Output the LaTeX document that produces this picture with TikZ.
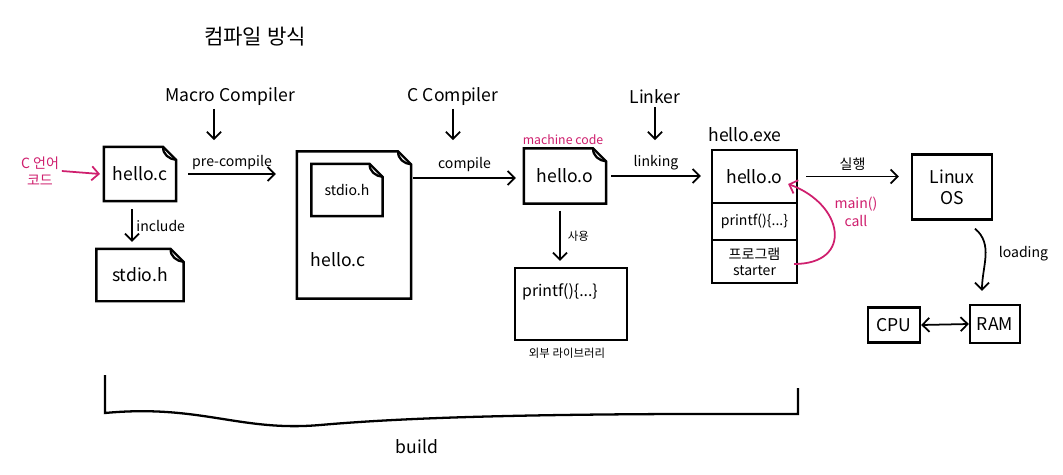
\documentclass[tikz,border=0pt]{standalone}
\usepackage{fontspec}
\setmainfont{Noto Sans CJK KR}
\usetikzlibrary{arrows.meta}
\definecolor{hlpink}{HTML}{CF1F6E}
\newcommand\docshape[1]{%
  \draw (#1.south west) -- (#1.north west) -- ([xshift=-0.26cm]#1.north east)
        -- ([yshift=-0.26cm]#1.north east) -- (#1.south east) -- cycle;
  \draw ([xshift=-0.26cm]#1.north east) to[out=-95,in=175] ([yshift=-0.26cm]#1.north east);}
\begin{document}
\begin{tikzpicture}[x=0.02cm,y=-0.02cm,line width=1.3pt,
  txt/.style={inner sep=1pt,font=\fontsize{10}{12}\selectfont},
  small/.style={inner sep=1pt,font=\fontsize{8}{10}\selectfont},
  tiny/.style={inner sep=1pt,font=\fontsize{6.5}{8}\selectfont},
  doc/.style={draw=none,inner sep=0pt,font=\fontsize{10}{12}\selectfont},
  box/.style={draw,inner sep=0pt,font=\fontsize{10}{12}\selectfont},
  arr/.style={-{Straight Barb[length=4pt,width=8pt]},line width=1pt},
  darr/.style={{Straight Barb[length=4pt,width=8pt]}-{Straight Barb[length=4pt,width=8pt]},line width=1pt},
  pk/.style={hlpink}]
\fill[white] (0,0) rectangle (1063,474);
\useasboundingbox (0,0) rectangle (1063,474);

% title
\node[txt,font=\fontsize{12}{14}\selectfont] (title) at (255,37) {컴파일 방식};

% C code label
\node[small,pk,align=center] (ccode) at (40,171) {C 언어\\코드};

% hello.c
\node[doc,minimum width=1.4cm,minimum height=1.04cm] (helloc) at (140,174) {hello.c};
\docshape{helloc}
\coordinate (cin) at (100,0);
\draw[arr,pk] (ccode.east) -- (helloc.west -| cin);

% stdio.h
\node[doc,minimum width=1.7cm,minimum height=1.0cm] (stdio) at (140,275) {stdio.h};
\docshape{stdio}
\draw[arr] ([xshift=-0.16cm,yshift=-0.16cm]helloc.south) -- ([xshift=-0.16cm,yshift=0.14cm]helloc.south |- stdio.north)
  node[small,midway,right=1pt] (incl) {include};

% Macro compiler
\node[txt] (mc) at (230,97) {Macro Compiler};
\coordinate (mce) at (214,140);
\draw[arr] (mc.south -| mce) -- (mce);

% big doc
\node[doc,minimum width=2.24cm,minimum height=2.9cm] (big) at (354,225) {};
\docshape{big}
\node[doc,minimum width=1.38cm,minimum height=1.0cm,font=\fontsize{8}{10}\selectfont] (istdio) at (347,190) {stdio.h};
\docshape{istdio}
\node[txt] (bighc) at (338,260) {hello.c};

\draw[arr] ([xshift=0.24cm]helloc.east) -- ([xshift=-0.42cm]helloc.east -| big.west)
  node[small,midway,above=1pt] (prec) {pre-compile};

% C compiler
\node[txt] (cc) at (453,97) {C Compiler};
\coordinate (cce) at (453,140);
\draw[arr] (cc.south -| cce) -- (cce);

% hello.o
\node[doc,minimum width=1.6cm,minimum height=1.06cm] (ho) at (565,176) {hello.o};
\docshape{ho}
\node[tiny,pk,font=\fontsize{7}{8}\selectfont] (mcode) at (563,140) {machine code};

\draw[arr] ([xshift=0.04cm,yshift=-0.04cm]ho.west -| big.east) -- ([xshift=-0.16cm,yshift=-0.04cm]ho.west)
  node[small,midway,above=2pt] (compl) {compile};

% printf library
\node[box,minimum width=2.24cm,minimum height=1.44cm] (lib) at (571,304) {};
\node[txt,font=\fontsize{9}{11}\selectfont] (libt) at (560,292) {printf()\{...\}};
\node[tiny] (libl) at (567,353) {외부 라이브러리};
\coordinate (usex) at (560,0);
\draw[arr] ([yshift=-0.14cm]ho.south -| usex) -- ([yshift=0.12cm]lib.north -| usex)
  node[tiny,midway,right=3pt] (use) {사용};

% Linker
\node[txt] (lk) at (655,97) {Linker};
\coordinate (lke) at (655,140);
\draw[arr] (lk.south -| lke) -- (lke);

% hello.exe
\node[box,minimum width=1.7cm,minimum height=1.06cm] (exe1) at (754.5,176.5) {hello.o};
\node[box,minimum width=1.7cm,minimum height=0.74cm,font=\fontsize{8}{10}\selectfont] (exe2) at (754.5,221.5) {printf()\{...\}};
\node[box,minimum width=1.7cm,minimum height=0.86cm,align=center,font=\fontsize{8}{9}\selectfont] (exe3) at (754.5,261.5) {프로그램\\starter};
\node[txt] (exel) at (745,135) {hello.exe};

\draw[arr] ([xshift=0.1cm]ho.east) -- ([xshift=-0.2cm]ho.east -| exe1.west)
  node[small,midway,above=2pt] (lnk) {linking};

% main() call
\draw[arr,pk] ([xshift=-0.08cm,yshift=-0.05cm]exe3.east) to[out=0,in=-20,looseness=1.9] ([xshift=-0.2cm,yshift=-0.15cm]exe1.east);
\node[small,pk,align=center] (mainc) at (856,212) {main()\\call};

% Linux OS
\node[box,minimum width=1.6cm,minimum height=1.3cm,align=center] (os) at (952,187) {Linux\\OS};
\draw[arr] ([xshift=0.16cm]exe1.east) -- ([xshift=-0.24cm]exe1.east -| os.west)
  node[small,midway,above=2pt] (run) {실행};

% CPU / RAM
\node[box,minimum width=1.04cm,minimum height=0.7cm] (cpu) at (894,325) {CPU};
\node[box,minimum width=1.0cm,minimum height=0.76cm] (ram) at (995,324) {RAM};
\draw[darr] (cpu.east) -- (ram.west);
\draw[arr] ([xshift=0.46cm,yshift=-0.16cm]os.south) to[out=-40,in=90]
  node[small,pos=0.45,right=6pt] (load) {loading} ([xshift=-0.26cm,yshift=0.26cm]ram.north);

% build bracket
\draw (105,375) -- (105,413) .. controls (200,404) and (240,432) .. (320,425)
  .. controls (390,419) and (500,413) .. (798,414) -- (798,388);
\node[txt] (build) at (417,447) {build};
\end{tikzpicture}
\end{document}
